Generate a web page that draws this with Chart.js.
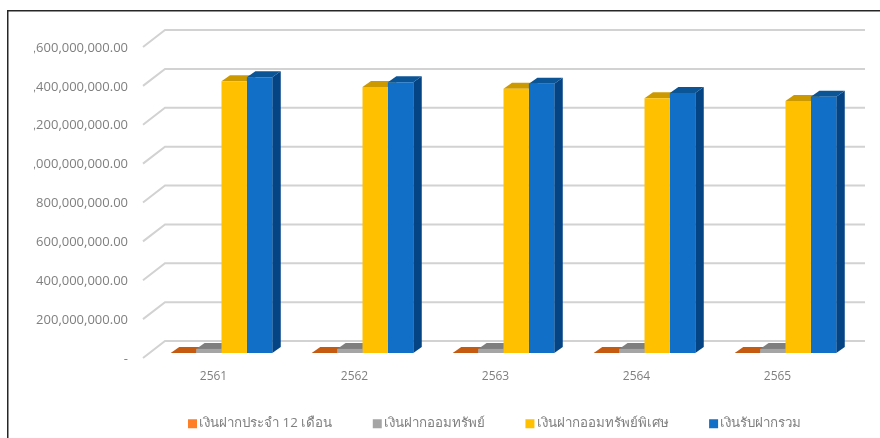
<!DOCTYPE html>
<html><head><meta charset="utf-8">
<style>html,body{margin:0;padding:0;background:#fff}canvas{display:block}</style>
<script src="https://cdn.jsdelivr.net/npm/chart.js@4"></script></head>
<body><canvas id="c" width="880" height="438"></canvas>
<script>
const categories = ['2561','2562','2563','2564','2565'];
const seriesNames = ['เงินฝากประจำ 12 เดือน','เงินฝากออมทรัพย์','เงินฝากออมทรัพย์พิเศษ','เงินรับฝากรวม'];
const fixed12 = [500000,500000,500000,500000,500000];
const savings = [21000000,21000000,21000000,21000000,21000000];
const specialSavings = [1398000000,1369000000,1359000000,1311000000,1297000000];
const totalDeposits = [1419000000,1393000000,1385000000,1337000000,1318000000];
const frontColors = ['#c55a11','#a5a5a5','#ffc000','#126fc8'];
const legendColors = ['#ff7f27','#a5a5a5','#ffc000','#126fc8'];
const topColors = ['#c55a11','#7f7f7f','#cc9900','#0b5496'];
const sideColors = ['#9e480e','#636363','#997300','#044384'];
const DX=8.5, DY=6, FONT='"Open Sans","Noto Sans CJK SC",sans-serif';

const depth = {
  id:'depth',
  beforeLayout(ch){
    const l=ch.legend;
    if(!l._wrapped){const f=l.fit;l.fit=function(){f.call(this);this.height=0;};l._wrapped=true;}
  },
  afterLayout(ch){
    const l=ch.legend;
    l.left=147.5; l.right=147.5+800; l.top=426-45-9;
  },
  beforeDatasetsDraw(ch){
    const c=ch.ctx, y=ch.scales.y;
    c.save();
    c.strokeStyle='#d2d2d2'; c.lineWidth=2;
    y.ticks.forEach(t=>{
      const p=y.getPixelForValue(t.value);
      c.beginPath();
      c.moveTo(143,p+5); c.lineTo(165,p-12); c.lineTo(865,p-12);
      c.stroke();
    });
    ch.data.datasets.forEach((d,i)=>{
      ch.getDatasetMeta(i).data.forEach(b=>{
        const L=b.x-b.width/2,R=b.x+b.width/2;
        c.fillStyle=sideColors[i];
        c.beginPath();c.moveTo(R,b.y);c.lineTo(R+DX,b.y-DY);c.lineTo(R+DX,b.base-DY);c.lineTo(R,b.base);c.closePath();c.fill();
        c.fillStyle=topColors[i];
        c.beginPath();c.moveTo(L,b.y);c.lineTo(L+DX,b.y-DY);c.lineTo(R+DX,b.y-DY);c.lineTo(R,b.y);c.closePath();c.fill();
      });
    });
    c.restore();
  },
  afterDraw(ch){
    const c=ch.ctx;
    c.save();
    c.fillStyle='#fff'; c.fillRect(0,0,34,438);
    c.fillStyle='#262626';
    c.fillRect(7,10,873,1.5); c.fillRect(7,10,1.5,428);
    c.restore();
  }
};

new Chart(document.getElementById('c'),{
  type:'bar',
  data:{labels:categories,datasets:[fixed12,savings,specialSavings,totalDeposits].map((v,i)=>({
    label:seriesNames[i],data:v,backgroundColor:frontColors[i],
    categoryPercentage:0.72,barPercentage:1
  }))},
  options:{
    responsive:false,animation:false,
    layout:{padding:{left:0,right:24,top:42,bottom:0}},
    plugins:{
      tooltip:{enabled:false},
      legend:{position:'bottom',align:'start',
        labels:{
          usePointStyle:true,boxWidth:0.01,boxHeight:9,padding:45,color:'#7f7f7f',font:{family:FONT,size:13.3},
          generateLabels(ch){return seriesNames.map((n,i)=>({text:n,fillStyle:legendColors[i],strokeStyle:legendColors[i],lineWidth:0,pointStyle:'rect',rotation:0,datasetIndex:i,fontColor:'#7f7f7f'}));}
        }}
    },
    scales:{
      x:{
        grid:{display:false,drawTicks:false},border:{display:false},
        afterFit(s){s.height=85;},
        ticks:{color:'#7f7f7f',font:{family:FONT,size:12},labelOffset:-8,padding:16,maxRotation:0}
      },
      y:{
        min:0,max:1600000000,
        grid:{display:false,drawTicks:false},border:{display:false},
        afterFit(s){s.width=151;},
        ticks:{stepSize:200000000,color:'#7f7f7f',font:{family:FONT,size:13},labelOffset:6,padding:23,
          callback(v){return v===0?'-':Number(v).toLocaleString('en-US',{minimumFractionDigits:2,maximumFractionDigits:2});}}
      }
    }
  },
  plugins:[depth]
});
</script></body></html>
